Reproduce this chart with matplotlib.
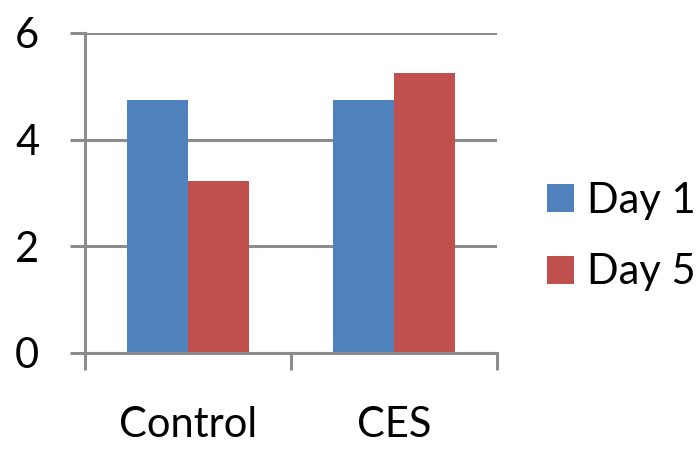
import matplotlib.pyplot as plt
import numpy as np

categories = ["Control", "CES"]
series_names = ["Day 1", "Day 5"]
day1 = [4.75, 4.75]
day5 = [3.23, 5.25]
colors = ["#4f81bd", "#c0504d"]
y_ticks = [0, 2, 4, 6]

plt.rcParams["font.family"] = ["Lato", "DejaVu Sans"]
grid_col = "#8c8c8c"
fs = 30

fig = plt.figure(figsize=(6.97, 4.51), dpi=100)
W, H = 697, 451
ax = fig.add_axes([85 / W, 1 - 353 / H, (497 - 85) / W, (353 - 33) / H])

x = np.arange(len(categories)) + 0.5
bw = 0.295
ax.bar(x - bw / 2, day1, bw, color=colors[0], label=series_names[0], zorder=3)
ax.bar(x + bw / 2, day5, bw, color=colors[1], label=series_names[1], zorder=3)

ax.set_xlim(0, 2)
ax.set_ylim(0, 6)
ax.set_yticks(y_ticks)
ax.yaxis.grid(True, color=grid_col, linewidth=2.2, zorder=0)
ax.set_axisbelow(True)

ax.set_xticks([0, 1, 2])
ax.set_xticklabels([])
ax.set_xticks(x, minor=True)
ax.set_xticklabels(categories, minor=True)

for s in ["top", "right", "bottom"]:
    ax.spines[s].set_visible(False)
ax.spines["left"].set_color(grid_col)
ax.spines["left"].set_linewidth(2.2)
ax.axhline(0, color=grid_col, linewidth=2.2, zorder=4, clip_on=False)

ax.tick_params(axis="y", length=11, width=2.2, color=grid_col, pad=22,
               labelsize=fs)
ax.tick_params(axis="x", which="major", length=12, width=2.2, color=grid_col)
ax.tick_params(axis="x", which="minor", length=0, pad=38, labelsize=fs)

fig.legend(loc="upper left", bbox_to_anchor=(547 / W, 1 - 182 / H),
           frameon=False, fontsize=fs, handlelength=0.65, handleheight=0.65,
           handletextpad=0.3, labelspacing=0.8, borderaxespad=0, borderpad=0)

fig.savefig("out.png", dpi=100)
